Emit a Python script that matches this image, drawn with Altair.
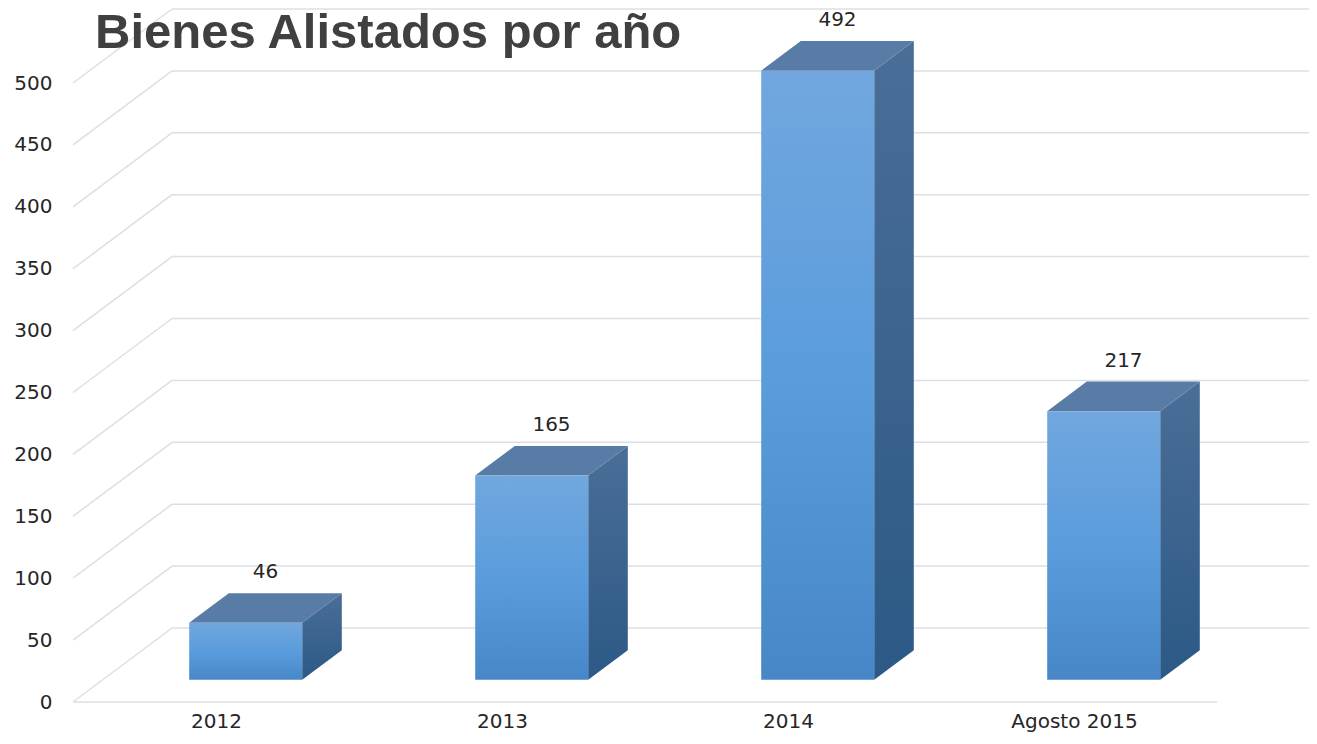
import json
import altair as alt
import pandas as pd

# ---- data ----
categories = ["2012", "2013", "2014", "Agosto 2015"]
values = [46, 165, 492, 217]
y_ticks = [0, 50, 100, 150, 200, 250, 300, 350, 400, 450, 500]
title_text = "Bienes Alistados por año"

# ---- 3D geometry (in scale units) ----
PLOT_W, PLOT_H = 1236, 694
PX_PER_CAT = 286.0
PX_PER_VAL = 1.238
X_MAX = PLOT_W / PX_PER_CAT
W_MAX = PLOT_H / PX_PER_VAL
DX = 99.0 / PX_PER_CAT        # full depth, horizontal shift
DW = 74.0 / PX_PER_VAL        # full depth, vertical shift
FRONT = 0.3                   # bar front at 30% of depth
DEPTH = 0.4                   # bar depth 40%
HALF_W = 56.5 / PX_PER_CAT

FONT = "DejaVu Sans"
TEXT_COLOR = "#262626"
GRID_COLOR = "#dcdfe5"

x_scale = alt.Scale(domain=[0, X_MAX], nice=False, zero=False)
y_scale = alt.Scale(domain=[0, W_MAX], nice=False, zero=False)

label_expr = json.dumps(categories) + "[floor(datum.value)]"
x_axis = alt.Axis(values=[i + 0.5 for i in range(len(categories))],
                  labelExpr=label_expr, title=None, domain=False,
                  ticks=False, grid=False, labelFont=FONT,
                  labelFontSize=20, labelColor=TEXT_COLOR,
                  labelPadding=9, labelBaseline="top")
y_axis = alt.Axis(values=y_ticks, format="d", title=None, domain=False,
                  ticks=False, grid=False, labelFont=FONT,
                  labelFontSize=20, labelColor=TEXT_COLOR,
                  labelPadding=21)

# bar table
bars = pd.DataFrame({"cat": categories, "value": values, "i": range(len(categories))})
bars["xl"] = bars["i"] + 0.5 + FRONT * DX - HALF_W
bars["xr"] = bars["xl"] + 2 * HALF_W
bars["w0"] = FRONT * DW
bars["w1"] = bars["value"] + bars["w0"]
bars["xc"] = (bars["xl"] + bars["xr"]) / 2 + DEPTH / 2 * DX
bars["wt"] = bars["w1"] + DEPTH * DW

side_rows, top_rows = [], []
for _, r in bars.iterrows():
    side_rows.append({"cat": r["cat"], "x": r["xr"], "lo": r["w0"], "hi": r["w1"]})
    side_rows.append({"cat": r["cat"], "x": r["xr"] + DEPTH * DX,
                      "lo": r["w0"] + DEPTH * DW, "hi": r["w1"] + DEPTH * DW})
    top_rows.append({"cat": r["cat"], "w": r["w1"], "xa": r["xl"], "xb": r["xr"]})
    top_rows.append({"cat": r["cat"], "w": r["w1"] + DEPTH * DW,
                     "xa": r["xl"] + DEPTH * DX, "xb": r["xr"] + DEPTH * DX})
side = pd.DataFrame(side_rows)
top = pd.DataFrame(top_rows)

grid = pd.DataFrame({"t": y_ticks})
grid["xb0"] = DX
grid["xb1"] = X_MAX
grid["wb"] = grid["t"] + DW
grid["xd0"] = 0.0
grid["xd1"] = DX

floor = pd.DataFrame({"x0": [0.0], "x1": [float(len(categories))], "w": [0.0]})

# back wall gridlines
back = alt.Chart(grid).mark_rule(color=GRID_COLOR, strokeWidth=1.5).encode(
    x=alt.X("xb0:Q", scale=x_scale, axis=x_axis),
    x2="xb1:Q",
    y=alt.Y("wb:Q", scale=y_scale, axis=y_axis),
)

# left wall diagonals
diag = alt.Chart(grid).mark_rule(color=GRID_COLOR, strokeWidth=1.5).encode(
    x=alt.X("xd0:Q", scale=x_scale, axis=x_axis),
    x2="xd1:Q",
    y=alt.Y("t:Q", scale=y_scale, axis=y_axis),
    y2="wb:Q",
)

floor_line = alt.Chart(floor).mark_rule(color=GRID_COLOR, strokeWidth=1.5).encode(
    x=alt.X("x0:Q", scale=x_scale, axis=x_axis),
    x2="x1:Q",
    y=alt.Y("w:Q", scale=y_scale, axis=y_axis),
)

side_grad = alt.LinearGradient(
    gradient="linear", x1=0, x2=0, y1=0, y2=1,
    stops=[alt.GradientStop(color="#4a6e97", offset=0),
           alt.GradientStop(color="#2c5986", offset=1)])
front_grad = alt.LinearGradient(
    gradient="linear", x1=0, x2=0, y1=0, y2=1,
    stops=[alt.GradientStop(color="#71a7de", offset=0),
           alt.GradientStop(color="#5a9cdc", offset=0.5),
           alt.GradientStop(color="#4787c8", offset=1)])

side_face = alt.Chart(side).mark_area(color=side_grad, orient="vertical").encode(
    x=alt.X("x:Q", scale=x_scale, axis=x_axis),
    y=alt.Y("lo:Q", scale=y_scale, axis=y_axis, stack=None),
    y2="hi:Q",
    detail="cat:N",
)

top_face = alt.Chart(top).mark_area(color="#587ca6", orient="horizontal").encode(
    y=alt.Y("w:Q", scale=y_scale, axis=y_axis),
    x=alt.X("xa:Q", scale=x_scale, axis=x_axis, stack=None),
    x2="xb:Q",
    detail="cat:N",
)

front_face = alt.Chart(bars).mark_bar(color=front_grad).encode(
    x=alt.X("xl:Q", scale=x_scale, axis=x_axis),
    x2="xr:Q",
    y=alt.Y("w0:Q", scale=y_scale, axis=y_axis),
    y2="w1:Q",
)

value_labels = alt.Chart(bars).mark_text(
    font=FONT, fontSize=20, color=TEXT_COLOR, dy=-21, baseline="middle", align="center"
).encode(
    x=alt.X("xc:Q", scale=x_scale, axis=x_axis),
    y=alt.Y("wt:Q", scale=y_scale, axis=y_axis),
    text=alt.Text("value:Q", format="d"),
)

title = alt.Chart(pd.DataFrame({"t": [title_text]})).mark_text(
    font="Liberation Sans", fontSize=49, fontWeight="bold", color="#404040",
    align="left", baseline="alphabetic"
).encode(
    x=alt.value(22),
    y=alt.value(40),
    text="t:N",
)

chart = alt.layer(back, diag, floor_line, side_face, top_face, front_face,
                  value_labels, title).properties(
    width=PLOT_W, height=PLOT_H,
    padding={"left": 65, "top": 0, "right": 0, "bottom": 30},
    autosize=alt.AutoSizeParams(type="none"),
    background="white",
).configure_view(strokeWidth=0)

chart.save("out.html", embed_options={"renderer": "svg", "actions": False})
